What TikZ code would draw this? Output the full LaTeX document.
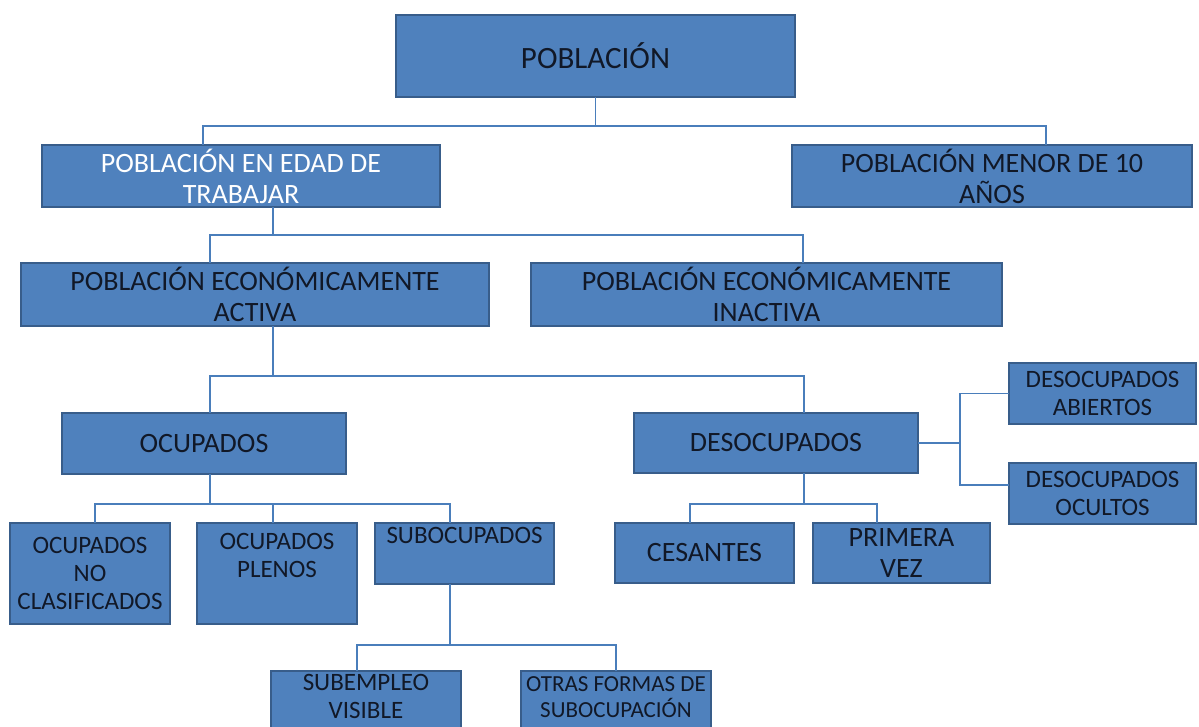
\documentclass[tikz,border=0pt]{standalone}
\usepackage{fontspec}
\setmainfont{Carlito}
\definecolor{boxfill}{HTML}{4F81BD}
\definecolor{boxedge}{HTML}{385D8A}
\definecolor{linkcol}{HTML}{4A7EBB}
\definecolor{labeltext}{HTML}{111827}

\begin{document}
\begin{tikzpicture}[x=1pt, y=-1pt,
  box/.style={draw=boxedge, fill=boxfill, line width=1.5pt, inner sep=0pt, outer sep=0pt,
    align=center, text=labeltext, font=\fontsize{28}{31}\selectfont},
  smallbox/.style={box, font=\fontsize{25}{28}\selectfont},
  link/.style={draw=linkcol, line width=1.5pt}]
\fill[white] (0,0) rectangle (1199,727);
\useasboundingbox (0,0) rectangle (1199,727);

% first and second level
\node[box, minimum width=399pt, minimum height=82pt, font=\fontsize{31}{36}\selectfont] (pob) at (595.5,56) {POBLACIÓN};
\node[box, minimum width=398pt, minimum height=62pt, text=white] (pedt) at (241,176) {POBLACIÓN EN EDAD DE\\TRABAJAR};
\node[box, minimum width=400pt, minimum height=62pt] (menor) at (992,176) {POBLACIÓN MENOR DE 10\\AÑOS};

% economically active / inactive
\node[box, minimum width=468pt, minimum height=63pt] (pea) at (255,294.5) {POBLACIÓN ECONÓMICAMENTE\\ACTIVA};
\node[box, minimum width=471pt, minimum height=63pt] (pei) at (766.5,294.5) {POBLACIÓN ECONÓMICAMENTE\\INACTIVA};

\node[box, minimum width=284pt, minimum height=61pt] (ocu) at (204,443.5) {OCUPADOS};
\node[box, minimum width=284pt, minimum height=60pt] (desocu) at (776,443) {DESOCUPADOS};
\node[smallbox, minimum width=187pt, minimum height=61pt] (abiertos) at (1102.5,393.5) {DESOCUPADOS\\ABIERTOS};
\node[smallbox, minimum width=187pt, minimum height=61pt] (ocultos) at (1102.5,493.5) {DESOCUPADOS\\OCULTOS};

% bottom rows
\node[smallbox, minimum width=160pt, minimum height=101pt] (ocnc) at (90,573.5) {OCUPADOS\\NO\\CLASIFICADOS};
\node[smallbox, minimum width=160pt, minimum height=101pt] (plenos) at (277,573.5) {OCUPADOS\\PLENOS\\\strut};
\node[smallbox, minimum width=179pt, minimum height=61pt] (subo) at (464.5,553.5) {SUBOCUPADOS\\\strut};
\node[box, minimum width=179pt, minimum height=60pt] (cesantes) at (704.5,553) {CESANTES};
\node[box, minimum width=177pt, minimum height=60pt] (primera) at (901.5,553) {PRIMERA\\VEZ};
\node[smallbox, minimum width=190pt, minimum height=64pt, text depth=14pt] (subvis) at (366,703) {SUBEMPLEO\\VISIBLE};
\node[box, minimum width=190pt, minimum height=64pt, text depth=12pt, font=\fontsize{23}{26}\selectfont] (otras) at (616,703) {OTRAS FORMAS DE\\SUBOCUPACIÓN};

% connectors
\draw[link] (pob.south) -- ++(0,29) -| ([xshift=-38pt]pedt.north);
\draw[link] (pob.south) -- ++(0,29) -| ([xshift=54pt]menor.north);
\draw[link] ([xshift=32pt]pedt.south) -- ++(0,28) -| ([xshift=-45pt]pea.north);
\draw[link] ([xshift=32pt]pedt.south) -- ++(0,28) -| ([xshift=36.5pt]pei.north);
\draw[link] ([xshift=18pt]pea.south) -- ++(0,50) -| ([xshift=6pt]ocu.north);
\draw[link] ([xshift=18pt]pea.south) -- ++(0,50) -| ([xshift=28pt]desocu.north);
\draw[link] (desocu.east) -- ++(42,0) |- (abiertos.west);
\draw[link] (desocu.east) -- ++(42,0) |- ([yshift=8.5pt]ocultos.west);
\draw[link] ([xshift=28pt]desocu.south) -- ++(0,31) -| ([xshift=-14.5pt]cesantes.north);
\draw[link] ([xshift=28pt]desocu.south) -- ++(0,31) -| ([xshift=-24.5pt]primera.north);
\draw[link] ([xshift=6pt]ocu.south) -- ++(0,30) -| ([xshift=5pt]ocnc.north);
\draw[link] ([xshift=6pt]ocu.south) -- ++(0,30) -| ([xshift=-4pt]plenos.north);
\draw[link] ([xshift=6pt]ocu.south) -- ++(0,30) -| ([xshift=-14.5pt]subo.north);
\draw[link] ([xshift=-14.5pt]subo.south) -- ++(0,61) -| ([xshift=-9pt]subvis.north);
\draw[link] ([xshift=-14.5pt]subo.south) -- ++(0,61) -| (otras.north);
\end{tikzpicture}
\end{document}
